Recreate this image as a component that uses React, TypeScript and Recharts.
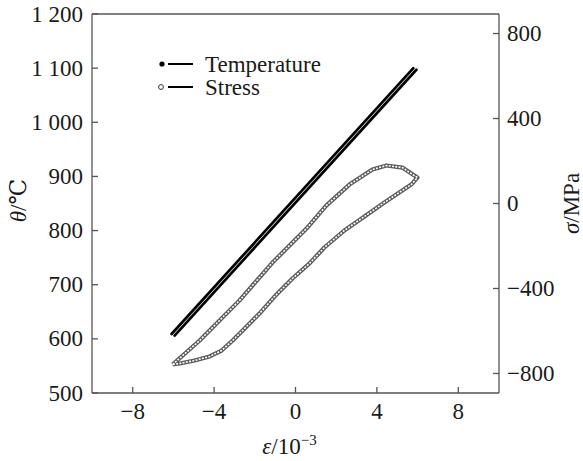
import { LineChart, Line, XAxis, YAxis, ReferenceLine, Legend } from "recharts";

const strainTicks = [-8, -4, 0, 4, 8];
const tempTicks = [500, 600, 700, 800, 900, 1000, 1100, 1200];
const stressTicks = [-800, -400, 0, 400, 800];

// temperature band: two nearly coincident straight runs
const tempUpStrain = [-6.09, 5.79];
const tempUp = [609, 1100];
const tempDownStrain = [-5.94, 5.94];
const tempDown = [606, 1097];

// stress-strain hysteresis loop, upper branch then back along lower branch
const loopStrain = [
  -6.04, -4.71, -2.75, -1.13, 0.54, 1.52, 2.65, 3.78, 4.47, 5.25, 5.99,
  5.69, 5.1, 4.37, 3.39, 2.4, 1.42, 0.69, -0.15, -1.03, -1.77, -2.5, -3.09,
  -3.63, -4.22, -4.96, -5.69, -6.04,
];
const loopStress = [
  -758, -645, -456, -278, -118, -9, 89, 160, 179, 169, 122,
  89, 52, 5, -61, -127, -207, -282, -353, -438, -518, -588, -645,
  -692, -720, -739, -753, -758,
];

const tempUpData = tempUp.map((y, i) => ({ x: tempUpStrain[i], y }));
const tempDownData = tempDown.map((y, i) => ({ x: tempDownStrain[i], y }));
const loopData = loopStress.map((y, i) => ({ x: loopStrain[i], y }));

const FONT = "'Liberation Serif', 'DejaVu Serif', serif";
const AXIS = "#555";
const INK = "#1a1a1a";
const FS = 23;
const TICK = 6;
const txt = { fontFamily: FONT, fontSize: FS, fill: INK };

const minus = (v: number) => (v < 0 ? `\u2212${Math.abs(v)}` : `${v}`);
const tempLabel = (v: number) =>
  v >= 1000 ? `${Math.floor(v / 1000)} ${String(v % 1000).padStart(3, "0")}` : `${v}`;

function BottomTick({ x, y, payload }: any) {
  const y0 = y - 10;
  return (
    <g>
      <line x1={x} x2={x} y1={y0} y2={y0 - TICK} stroke={AXIS} strokeWidth={1.3} />
      <text x={x} y={y0 + 26} textAnchor="middle" style={txt}>
        {minus(payload.value)}
      </text>
    </g>
  );
}

function LeftTick({ x, y, payload }: any) {
  const x0 = x + 9;
  return (
    <g>
      <line x1={x0} x2={x0 + TICK} y1={y} y2={y} stroke={AXIS} strokeWidth={1.3} />
      <text x={x} y={y + 7.5} textAnchor="end" style={txt}>
        {tempLabel(payload.value)}
      </text>
    </g>
  );
}

function RightTick({ x, y, payload }: any) {
  const x0 = x - 8;
  return (
    <g>
      <line x1={x0} x2={x0 - TICK} y1={y} y2={y} stroke={AXIS} strokeWidth={1.3} />
      <text x={x} y={y + 7.5} textAnchor="start" style={txt}>
        {minus(payload.value)}
      </text>
    </g>
  );
}

function LeftTitle({ viewBox }: any) {
  const cx = 18;
  const cy = viewBox.y + viewBox.height / 2 - 3;
  return (
    <text
      x={cx}
      y={cy}
      transform={`rotate(-90 ${cx} ${cy})`}
      textAnchor="middle"
      dominantBaseline="central"
      style={txt}
    >
      <tspan fontStyle="italic">θ</tspan>
      <tspan>/℃</tspan>
    </text>
  );
}

function RightTitle({ viewBox }: any) {
  const cx = 571;
  const cy = viewBox.y + viewBox.height / 2;
  return (
    <text
      x={cx}
      y={cy}
      transform={`rotate(-90 ${cx} ${cy})`}
      textAnchor="middle"
      dominantBaseline="central"
      style={txt}
    >
      <tspan fontStyle="italic">σ</tspan>
      <tspan>/MPa</tspan>
    </text>
  );
}

function BottomTitle({ viewBox }: any) {
  const cx = viewBox.x + viewBox.width / 2 - 6;
  return (
    <text x={cx} y={454} textAnchor="middle" style={txt}>
      <tspan fontStyle="italic">ε</tspan>
      <tspan>/10</tspan>
      <tspan fontSize={15} dy={-9}>{"\u22123"}</tspan>
    </text>
  );
}

function LegendBox() {
  return (
    <svg width={180} height={52} style={{ display: "block" }}>
      <circle cx={7} cy={14} r={2.6} fill="#000" />
      <line x1={13} x2={38} y1={14} y2={14} stroke="#000" strokeWidth={2} />
      <text x={50} y={22} style={txt}>
        Temperature
      </text>
      <circle cx={6} cy={37} r={2.4} fill="#fff" stroke="#333" strokeWidth={1} />
      <line x1={13} x2={38} y1={37} y2={37} stroke="#000" strokeWidth={2} />
      <text x={50} y={45} style={txt}>
        Stress
      </text>
    </svg>
  );
}

export default function App() {
  return (
    <div style={{ position: "absolute", left: 0, top: 0, background: "#fff" }}>
      <LineChart width={583} height={461} margin={{ top: 14, right: 0, bottom: 0, left: 0 }}>
        <XAxis
          type="number"
          dataKey="x"
          domain={[-10, 10]}
          ticks={strainTicks}
          allowDataOverflow
          height={68}
          stroke={AXIS}
          strokeWidth={1.3}
          tickLine={false}
          tickSize={0}
          tickMargin={10}
          tick={<BottomTick />}
          label={<BottomTitle />}
        />
        <YAxis
          yAxisId="left"
          type="number"
          domain={[500, 1200]}
          ticks={tempTicks}
          allowDataOverflow
          width={92}
          stroke={AXIS}
          strokeWidth={1.3}
          tickLine={false}
          tickSize={0}
          tickMargin={9}
          tick={<LeftTick />}
          label={<LeftTitle />}
        />
        <YAxis
          yAxisId="right"
          orientation="right"
          type="number"
          domain={[-892, 892]}
          ticks={stressTicks}
          allowDataOverflow
          width={84}
          stroke={AXIS}
          strokeWidth={1.3}
          tickLine={false}
          tickSize={0}
          tickMargin={8}
          tick={<RightTick />}
          label={<RightTitle />}
        />
        <ReferenceLine yAxisId="left" y={1200} stroke={AXIS} strokeWidth={1.3} />
        <Legend
          layout="vertical"
          align="center"
          verticalAlign="middle"
          content={<LegendBox />}
          wrapperStyle={{ position: "absolute", left: 155, top: 50, width: 180 }}
        />
        <Line
          yAxisId="left"
          data={tempUpData}
          dataKey="y"
          stroke="#000"
          strokeWidth={2.7}
          strokeLinecap="round"
          dot={false}
          isAnimationActive={false}
          legendType="none"
        />
        <Line
          yAxisId="left"
          data={tempDownData}
          dataKey="y"
          stroke="#000"
          strokeWidth={2.7}
          strokeLinecap="round"
          dot={false}
          isAnimationActive={false}
          legendType="none"
        />
        <Line
          yAxisId="right"
          data={loopData}
          dataKey="y"
          stroke="#5a5a5a"
          strokeWidth={4.2}
          strokeLinejoin="round"
          dot={false}
          isAnimationActive={false}
          legendType="none"
        />
        <Line
          yAxisId="right"
          data={loopData}
          dataKey="y"
          stroke="#fff"
          strokeWidth={1.6}
          strokeDasharray="2 1.3"
          dot={false}
          isAnimationActive={false}
          legendType="none"
        />
      </LineChart>
    </div>
  );
}
